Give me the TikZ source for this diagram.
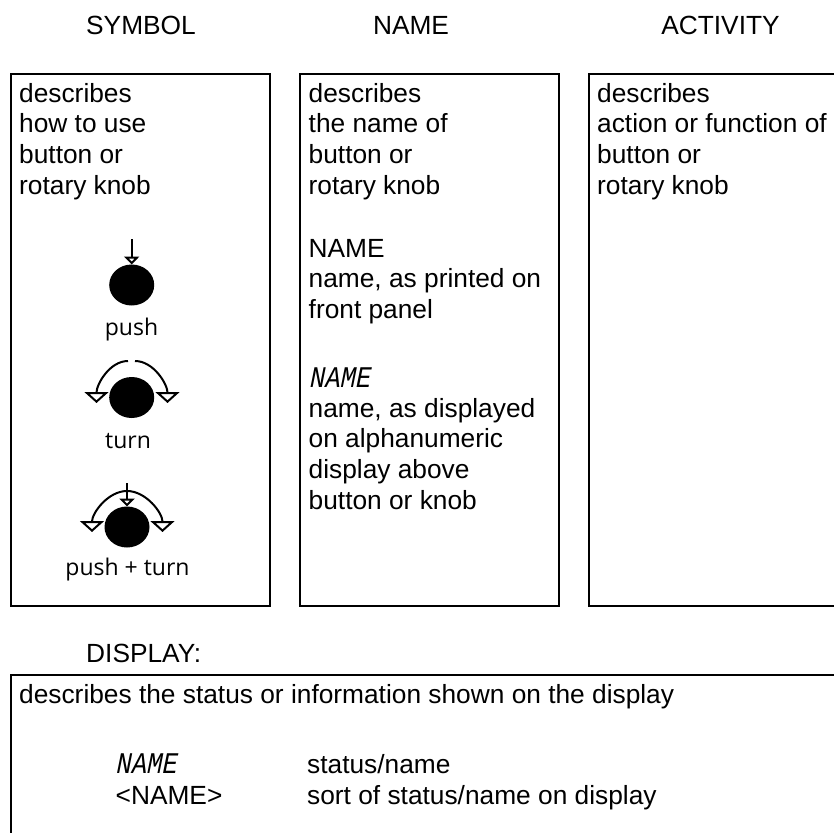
\documentclass[tikz,border=0pt]{standalone}
\usepackage{fontspec}
\setmainfont{Liberation Sans}
\newfontfamily\knobfont{Open Sans}
\newfontfamily\segfont[FakeSlant=0.2,FakeStretch=0.85]{Liberation Mono}
\usepackage{tikz}
\usetikzlibrary{arrows.meta,shapes.geometric}
\tikzstyle{panel} = [rectangle, draw=black, line width=2pt, inner sep=0pt]
\tikzstyle{txt} = [anchor=base west, inner sep=0pt, align=left, font=\fontsize{26.3}{30.6}\selectfont]
\tikzstyle{head} = [anchor=base, inner sep=0pt, font=\fontsize{26.3}{30.6}\selectfont]
\tikzstyle{seg} = [anchor=base west, inner sep=0pt, font=\fontsize{30}{30}\segfont]
\tikzstyle{knob} = [ellipse, fill=black, minimum width=45pt, minimum height=41pt, inner sep=0pt, outer sep=0pt]
\tikzstyle{knoblabel} = [anchor=base, inner sep=0pt, font=\fontsize{23}{26}\knobfont]
\tikzstyle{pusharrow} = [line width=2pt, -{Triangle[open,length=8pt,width=15pt]}]
\tikzstyle{turnarrow} = [line width=2pt, -{Triangle[open,length=11pt,width=24pt]}]
\begin{document}
\begin{tikzpicture}[x=1pt,y=-1pt]
\useasboundingbox (0,0) rectangle (834,832);
\clip (0,0) rectangle (834,832);
\node[head] (h1) at (141,35) {SYMBOL};
\node[head] (h2) at (411,35) {NAME};
\node[head] (h3) at (720.5,35) {ACTIVITY};
\node[panel, minimum width=259.4pt, minimum height=531.7pt] (box1) at (140.3,339.85) {};
\node[panel, minimum width=258.5pt, minimum height=531.7pt] (box2) at (429.25,339.85) {};
\node[panel, minimum width=261pt, minimum height=531.7pt] (box3) at (719.5,339.85) {};
\node[panel, minimum width=839.4pt, minimum height=175.3pt] (box4) at (430.3,762.35) {};
\node[txt] (t1) at (19,194) {describes\\how to use\\button or\\rotary knob};
\node[txt] (t2) at (308.5,194) {describes\\the name of\\button or\\rotary knob};
\node[txt] (t3) at (597,194) {describes\\action or function of\\button or\\rotary knob};
\node[txt] (t4) at (308.5,318.5) {NAME\\name, as printed on\\front panel};
\node[seg] (s1) at (308.5,387) {NAME};
\node[txt] (t5) at (308.5,509) {name, as displayed\\on alphanumeric\\display above\\button or knob};
\node[txt] (d0) at (86,662) {DISPLAY:};
\node[txt] (d1) at (19,703) {describes the status or information shown on the display};
\node[seg] (s2) at (115,773) {NAME};
\node[txt] (d2) at (115.5,804) {<NAME>};
\node[txt] (d3) at (307,773) {status/name};
\node[txt] (d4) at (307,804) {sort of status/name on display};
\node[knob] (k1) at (131.7,285) {};
\node[knoblabel] (l1) at (131.5,335) {push};
\coordinate (a1) at (131.7,239);
\draw[pusharrow] (a1) -- (k1.north);
\node[knob] (k2) at (131.7,397.5) {};
\node[knoblabel] (l2) at (128,448) {turn};
\coordinate (a2) at (128,361);
\coordinate (a3) at (135,361);
\coordinate (a4) at (96.5,403);
\coordinate (a5) at (167.5,403);
\draw[turnarrow] (a2) to[out=180,in=90,looseness=0.9] (a4);
\draw[turnarrow] (a3) to[out=0,in=90,looseness=0.9] (a5);
\node[knob] (k3) at (127,527) {};
\node[knoblabel] (l3) at (127.5,575) {push + turn};
\coordinate (a6) at (127,483);
\coordinate (a7) at (127,491);
\coordinate (a8) at (92,532);
\coordinate (a9) at (162.5,532);
\draw[turnarrow] (a7) to[out=180,in=90,looseness=0.9] (a8);
\draw[turnarrow] (a7) to[out=0,in=90,looseness=0.9] (a9);
\draw[pusharrow] (a6) -- (k3.north);
\end{tikzpicture}
\end{document}
